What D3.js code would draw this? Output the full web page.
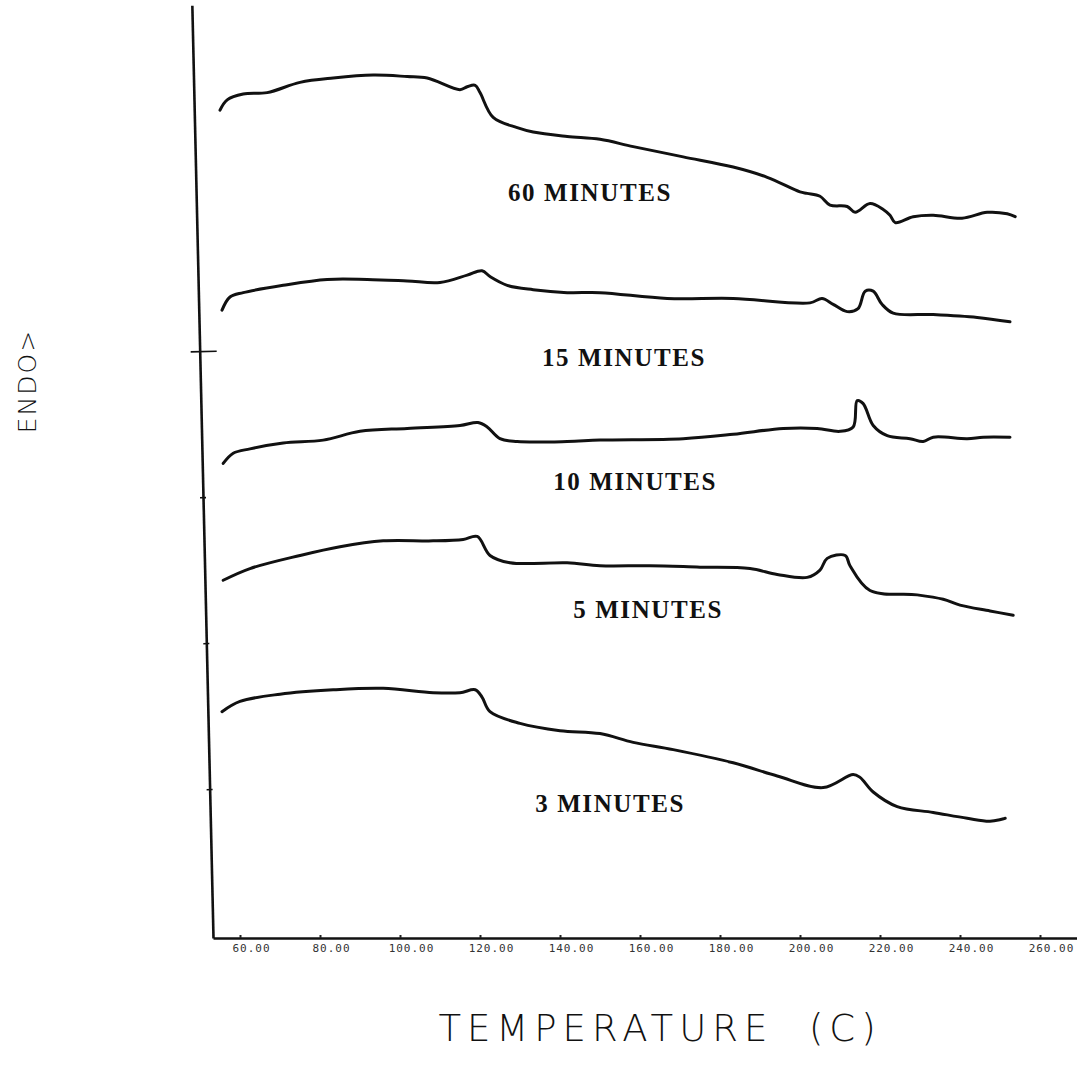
<!DOCTYPE html>
<html lang="en">
<head>
  <meta charset="UTF-8" />
  <script src="https://d3js.org/d3.v7.min.js"></script>
  <title>DSC traces</title>
  <style>
    body { margin: 0; background: #fff; }
  </style>
</head>
<body>
<script type="text/javascript">
var width = 1077;
var height = 1075;

// temperature ticks (C)
var tempTicks = [60, 80, 100, 120, 140, 160, 180, 200, 220, 240, 260];
var endoTicks = [10, 20, 30, 40];

// traces: [temperature, endo signal]
var min60 = [[55,56.5],[56.8,57.2],[60.8,57.6],[66.8,57.7],[75,58.4],[83.3,58.7],[93.3,58.9],[101.8,58.8],[106.8,58.7],[115,57.9],[116.8,58.1],[118.8,58.2],[120,57.7],[123.3,56.0],[129.3,55.3],[133.3,55.0],[141.8,54.7],[150,54.5],[158.3,54.0],[170.8,53.3],[183.3,52.6],[191.8,51.9],[200,50.9],[201.8,50.8],[205,50.6],[207.5,50.0],[211.8,49.9],[213.8,49.5],[217.5,50.1],[220.8,49.7],[222.5,49.3],[223.8,48.8],[228.3,49.2],[233.3,49.3],[240.5,49.1],[246.8,49.5],[251.8,49.4],[253.8,49.2]];
var min15 = [[55.5,42.8],[57.5,43.7],[60.8,44.0],[70.8,44.5],[81.8,44.9],[91.8,44.9],[101.8,44.8],[110,44.7],[116.8,45.2],[120.5,45.5],[122.5,45.1],[126.8,44.5],[133.3,44.2],[141.8,44.0],[150,44.0],[166.8,43.6],[183.3,43.6],[202.5,43.3],[205.5,43.6],[208.3,43.2],[211.8,42.7],[214.5,42.9],[216.3,44.1],[218.3,44.1],[220.5,43.2],[223.3,42.6],[233.3,42.5],[244.3,42.3],[252.5,42.0]];
var min10 = [[55.8,32.3],[58.3,33.0],[62.5,33.3],[70.8,33.7],[80.8,33.9],[90,34.5],[101.8,34.7],[115,34.9],[119.5,35.1],[121.8,34.8],[125,34.0],[129.3,33.8],[141.8,33.8],[150,33.9],[170.8,34.0],[183.3,34.3],[195.8,34.7],[204.3,34.7],[210,34.5],[213.3,34.8],[214.3,36.6],[215.8,36.4],[218.3,34.9],[221.8,34.2],[227.5,34.0],[230.8,33.8],[233.3,34.1],[241.8,34.0],[245.8,34.1],[252.5,34.1]];
var min5 = [[55.8,24.3],[62.5,25.1],[75,26.0],[85,26.6],[95.8,27.0],[108.3,27.0],[115.8,27.1],[119.3,27.3],[122.5,26.0],[127.5,25.5],[141.8,25.5],[150,25.3],[162.5,25.3],[175,25.2],[187.5,25.1],[194.3,24.7],[201.8,24.5],[205,25.0],[206.8,25.8],[211.3,26.0],[212.5,25.3],[217.5,23.6],[229.3,23.3],[235.8,23.0],[240,22.6],[247.5,22.2],[253.3,21.9]];
var min3 = [[55.5,15.3],[60,16.0],[70,16.5],[83.3,16.8],[95.8,16.9],[108.3,16.6],[115,16.6],[118.8,16.8],[120.5,16.3],[122.5,15.3],[130,14.5],[140,14.0],[150,13.8],[158.3,13.2],[168.3,12.7],[183.3,11.8],[194.3,10.9],[205.8,10.1],[213.3,11.0],[215,10.8],[218.3,9.8],[224.3,8.8],[233.3,8.4],[241.8,8.0],[247.5,7.8],[251.3,8.0]];

var seriesNames = ["60 MINUTES", "15 MINUTES", "10 MINUTES", "5 MINUTES", "3 MINUTES"];
var labelTemps = [127, 135.5, 138.3, 143.3, 133.8];
var labelLevels = [50.3, 39.0, 30.5, 21.7, 8.4];

var svg = d3.select("body").append("svg").attr("width", width).attr("height", height)
  .style("background", "#fff");

var x = d3.scaleLinear().domain([53.25, 269.25]).range([213, 1077]);
var y = d3.scaleLinear().domain([-0.2, 63.7]).range([938, 5]);

// x axis
var xAxis = svg.append("g")
  .attr("transform", "translate(0," + y.range()[0] + ")")
  .call(d3.axisBottom(x).tickValues(tempTicks).tickSize(-3).tickSizeOuter(0).tickFormat(d3.format(".2f")));
xAxis.select(".domain").attr("stroke", "#111").attr("stroke-width", 2.6);
xAxis.selectAll(".tick line").attr("stroke", "#222").attr("stroke-width", 2);
xAxis.selectAll(".tick text")
  .attr("y", 6).attr("dx", 11).attr("dy", "0.71em")
  .attr("fill", "#333").style("font-family", "DejaVu Sans Mono").style("font-size", "11px")
  .style("letter-spacing", "1px");

// y axis (the scanned axis leans slightly)
var yAxis = svg.append("g")
  .attr("transform", "translate(213,0) rotate(-1.3,0," + y.range()[0] + ")")
  .call(d3.axisLeft(y).tickValues(endoTicks).tickSizeOuter(0).tickFormat(""));
yAxis.select(".domain").attr("stroke", "#111").attr("stroke-width", 2.6);
yAxis.selectAll(".tick line")
  .attr("stroke", "#111").attr("stroke-width", 1.6)
  .attr("x1", function(d){ return d === 40 ? -9 : -3; })
  .attr("x2", function(d){ return d === 40 ? 17 : 3; });

var line = d3.line().x(function(d){ return x(d[0]); }).y(function(d){ return y(d[1]); })
  .curve(d3.curveCatmullRom.alpha(0.5));

var traces = [min60, min15, min10, min5, min3];
svg.append("g").selectAll("path").data(traces).enter().append("path")
  .attr("d", line)
  .attr("fill", "none").attr("stroke", "#111").attr("stroke-width", 3)
  .attr("stroke-linejoin", "round").attr("stroke-linecap", "round");

svg.append("g").selectAll("text").data(seriesNames).enter().append("text")
  .attr("x", function(d, i){ return x(labelTemps[i]); })
  .attr("y", function(d, i){ return y(labelLevels[i]); })
  .text(function(d){ return d; })
  .attr("fill", "#111")
  .style("font-family", "Liberation Serif").style("font-weight", "bold")
  .style("font-size", "25px").style("letter-spacing", "1.6px");

svg.append("text")
  .attr("transform", "translate(36,381) rotate(-90)")
  .attr("text-anchor", "middle")
  .text("ENDO>")
  .attr("fill", "#111")
  .style("font-family", "DejaVu Sans").style("font-weight", "200")
  .style("font-size", "25px").style("letter-spacing", "2px");

svg.append("text")
  .attr("x", 660).attr("y", 1041)
  .attr("text-anchor", "middle")
  .text("TEMPERATURE  (C)")
  .attr("fill", "#111")
  .style("font-family", "DejaVu Sans").style("font-weight", "200")
  .style("font-size", "37px").style("letter-spacing", "6px")
  .style("white-space", "pre");
</script>
</body>
</html>
